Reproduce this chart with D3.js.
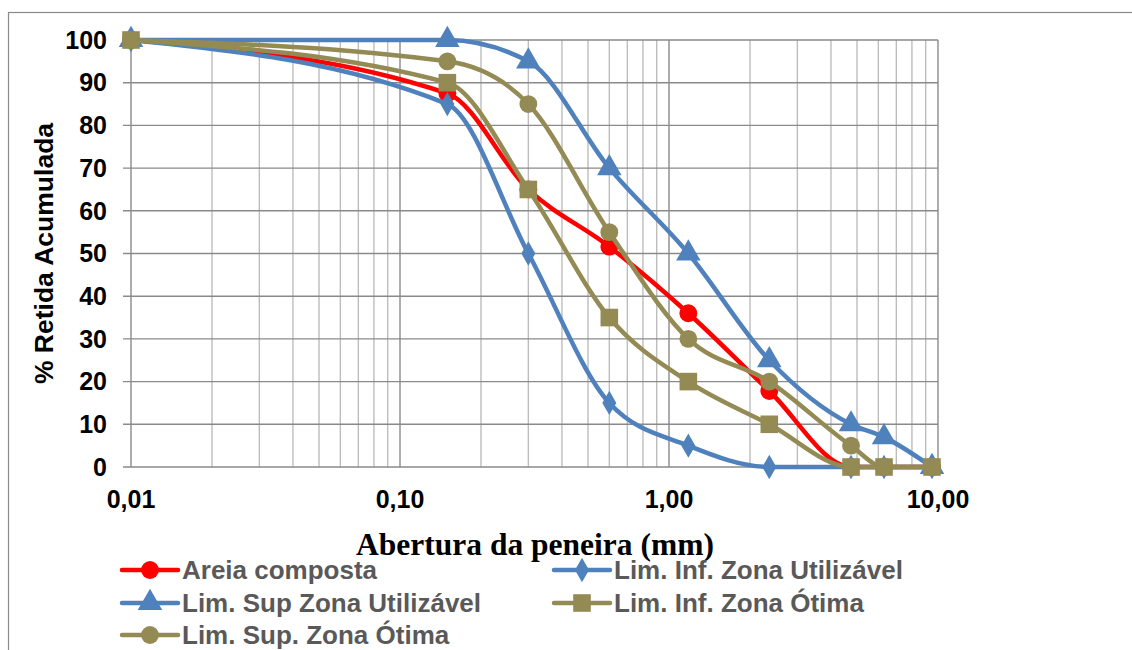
<!DOCTYPE html>
<html lang="pt">
<head>
<meta charset="UTF-8">
<title>Curva granulométrica</title>
<script src="https://d3js.org/d3.v7.min.js"></script>
<style>
  body { margin: 0; background: #fff; }
  svg { display: block; }
  .tick-label { font-family: "Liberation Sans", Arial, sans-serif; font-weight: bold; font-size: 25px; fill: #000; }
  .legend text { font-family: "Liberation Sans", Arial, sans-serif; font-weight: bold; font-size: 26px; fill: #595959; }
</style>
</head>
<body>
<svg width="1132" height="650"></svg>
<script>
  // Aberturas das peneiras (mm)
  const aberturas = [0.01, 0.15, 0.3, 0.6, 1.18, 2.36, 4.75, 6.3, 9.5];

  // % retida acumulada por série
  const areiaComposta = [100, 87.5, 65, 51.6, 36, 17.8, 0, 0, 0];
  const limInfUtil    = [100, 85, 50, 15, 5, 0, 0, 0, 0];
  const limSupUtil    = [100, 100, 95, 70, 50, 25, 10, 7, 0];
  const limInfOtima   = [100, 90, 65, 35, 20, 10, 0, 0, 0];
  const limSupOtima   = [100, 95, 85, 55, 30, 20, 5, 0, 0];

  const yTicks = [0, 10, 20, 30, 40, 50, 60, 70, 80, 90, 100];
  const xTicks = [0.01, 0.1, 1, 10];
  const xTickLabels = ["0,01", "0,10", "1,00", "10,00"];

  const series = [
    {name: "Areia composta", values: areiaComposta, color: "#ff0000", marker: "circle"},
    {name: "Lim. Inf. Zona Utilizável", values: limInfUtil, color: "#4f81bd", marker: "diamond"},
    {name: "Lim. Sup Zona Utilizável", values: limSupUtil, color: "#4f81bd", marker: "triangle"},
    {name: "Lim. Inf. Zona Ótima", values: limInfOtima, color: "#948a54", marker: "square"},
    {name: "Lim. Sup. Zona Ótima", values: limSupOtima, color: "#948a54", marker: "circle"}
  ];

  const svg = d3.select("svg");

  // moldura do gráfico
  svg.append("rect")
    .attr("x", 8.5).attr("y", 12.5)
    .attr("width", 1200).attr("height", 700)
    .attr("fill", "none").attr("stroke", "#8a8a8a").attr("stroke-width", 1.2);

  const x = d3.scaleLog().domain([0.01, 10]).range([131, 938]);
  const y = d3.scaleLinear().domain([0, 100]).range([467, 40]);

  // grade secundária
  const minor = [];
  [0.01, 0.1, 1].forEach(d => { for (let k = 2; k <= 9; k++) minor.push(d * k); });
  svg.append("g").selectAll("line").data(minor).join("line")
    .attr("x1", d => x(d)).attr("x2", d => x(d))
    .attr("y1", y(0)).attr("y2", y(100))
    .attr("stroke", "#bdbdbd").attr("stroke-width", 1.4);

  // grade principal
  svg.append("g").selectAll("line").data(yTicks).join("line")
    .attr("x1", x(0.01) - 8).attr("x2", x(10))
    .attr("y1", d => y(d)).attr("y2", d => y(d))
    .attr("stroke", "#8a8a8a").attr("stroke-width", 1.4);
  svg.append("g").selectAll("line").data(xTicks).join("line")
    .attr("x1", d => x(d)).attr("x2", d => x(d))
    .attr("y1", y(0)).attr("y2", y(100))
    .attr("stroke", "#8a8a8a").attr("stroke-width", 1.4);

  // rótulos
  svg.append("g").selectAll("text").data(yTicks).join("text")
    .attr("class", "tick-label")
    .attr("x", 107).attr("y", d => y(d)).attr("dy", "0.35em")
    .attr("text-anchor", "end")
    .text(d => d);
  svg.append("g").selectAll("text").data(xTicks).join("text")
    .attr("class", "tick-label")
    .attr("x", d => x(d)).attr("y", 508)
    .attr("text-anchor", "middle")
    .text((d, i) => xTickLabels[i]);

  svg.append("text")
    .attr("transform", `translate(53,${(y(0) + y(100)) / 2}) rotate(-90)`)
    .attr("text-anchor", "middle")
    .style("font-family", "'Liberation Sans', Arial, sans-serif")
    .style("font-weight", "bold").style("font-size", "26.5px")
    .text("% Retida Acumulada");

  svg.append("text")
    .attr("x", 535).attr("y", 555)
    .attr("text-anchor", "middle")
    .style("font-family", "'Liberation Serif', 'Times New Roman', serif")
    .style("font-weight", "bold").style("font-size", "31.5px")
    .text("Abertura da peneira (mm)");

  const symbols = {
    circle: d3.symbol(d3.symbolCircle, 250),
    square: d3.symbol(d3.symbolSquare, 310),
    triangle: d3.symbol(d3.symbolTriangle, 260),
    diamond: d3.symbol(d3.symbolDiamond, 170)
  };

  const line = d3.line()
    .x(d => x(d[0])).y(d => y(d[1]))
    .curve(d3.curveMonotoneX);

  const plot = svg.append("g");
  series.forEach(s => {
    const pts = aberturas.map((a, i) => [a, s.values[i]]);
    const g = plot.append("g");
    g.append("path")
      .attr("d", line(pts))
      .attr("fill", "none").attr("stroke", s.color)
      .attr("stroke-width", 4.5).attr("stroke-linejoin", "round");
    g.selectAll("path.m").data(pts).join("path")
      .attr("class", "m")
      .attr("d", symbols[s.marker])
      .attr("transform", d => `translate(${x(d[0])},${y(d[1])})`)
      .attr("fill", s.color);
  });

  // legenda
  const legend = svg.append("g").attr("class", "legend");
  const legPos = [[122, 570], [554, 570], [122, 603], [554, 603], [122, 635]];
  series.forEach((s, i) => {
    const row = legend.append("g").attr("transform", `translate(${legPos[i][0]},${legPos[i][1]})`);
    row.append("line")
      .attr("x1", 0).attr("x2", 56).attr("y1", 0).attr("y2", 0)
      .attr("stroke", s.color).attr("stroke-width", 4.5).attr("stroke-linecap", "round");
    row.append("path")
      .attr("d", symbols[s.marker])
      .attr("transform", "translate(28,0)")
      .attr("fill", s.color);
    row.append("text")
      .attr("x", 60).attr("y", 0).attr("dy", "0.35em")
      .text(s.name);
  });
</script>
</body>
</html>
